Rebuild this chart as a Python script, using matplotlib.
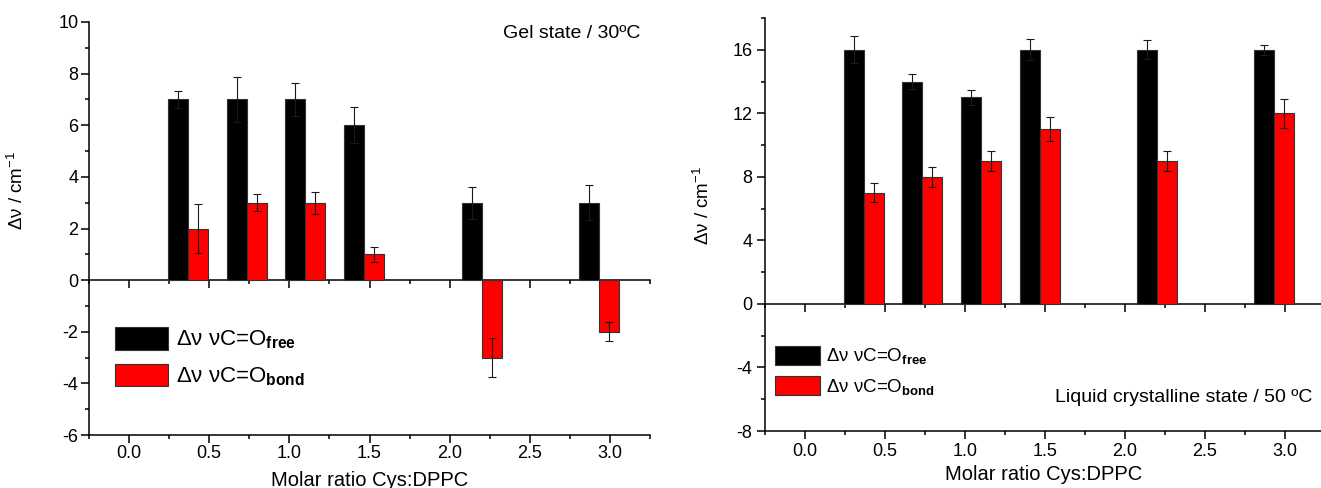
import numpy as np
import matplotlib
matplotlib.use('Agg')
import matplotlib.pyplot as plt
from matplotlib.ticker import MultipleLocator

plt.rcParams['font.family'] = ['Liberation Sans', 'DejaVu Sans']
plt.rcParams['mathtext.fontset'] = 'custom'
plt.rcParams['mathtext.rm'] = 'Liberation Sans'
plt.rcParams['mathtext.it'] = 'Liberation Sans:italic'
plt.rcParams['mathtext.bf'] = 'Liberation Sans:bold'
plt.rcParams['axes.unicode_minus'] = False

# data
ratio = [0.367, 0.733, 1.1, 1.467, 2.2, 2.933]

gel_free = [7, 7, 7, 6, 3, 3]
gel_free_err = [0.33, 0.87, 0.65, 0.7, 0.62, 0.69]
gel_bond = [2, 3, 3, 1, -3, -2]
gel_bond_err = [0.93, 0.32, 0.42, 0.28, 0.75, 0.36]

lc_free = [16, 14, 13, 16, 16, 16]
lc_free_err = [0.85, 0.5, 0.45, 0.65, 0.6, 0.3]
lc_bond = [7, 8, 9, 11, 9, 12]
lc_bond_err = [0.6, 0.62, 0.62, 0.74, 0.64, 0.9]

lab_free = 'Δν νC=O$_{\\mathbf{free}}$'
lab_bond = 'Δν νC=O$_{\\mathbf{bond}}$'

W = 0.125
x = np.array(ratio)

fig = plt.figure(figsize=(13.21, 4.88), dpi=100)
ax1 = fig.add_axes([89/1321, 53/488, 561/1321, 413/488])
ax2 = fig.add_axes([765/1321, 57/488, 560/1321, 413/488])


def panel(ax, free, free_err, bond, bond_err, ylim, ymaj, ymin, tpad):
    ekw = dict(ecolor='#1a1a1a', elinewidth=0.8, capsize=3.2, capthick=0.8)
    ax.bar(x - W/2, free, W, color='black', edgecolor='#333333', lw=0.8,
           yerr=free_err, error_kw=ekw, label=lab_free, zorder=2)
    ax.bar(x + W/2, bond, W, color='#ff0000', edgecolor='#333333', lw=0.8,
           yerr=bond_err, error_kw=ekw, label=lab_bond, zorder=2)
    ax.set_xlim(-0.25, 3.25)
    ax.set_ylim(*ylim)
    for s in ['top', 'right']:
        ax.spines[s].set_visible(False)
    for s in ['left', 'bottom']:
        ax.spines[s].set_linewidth(1.1)
    ax.xaxis.set_major_locator(MultipleLocator(0.5))
    ax.xaxis.set_minor_locator(MultipleLocator(0.25))
    ax.yaxis.set_major_locator(MultipleLocator(ymaj))
    ax.yaxis.set_minor_locator(MultipleLocator(ymin))
    ax.tick_params(which='major', length=6, width=1.1, labelsize=13, pad=tpad)
    ax.tick_params(which='minor', length=3, width=1.1)
    # zero line with its own ticks
    sec = ax.secondary_xaxis(0, transform=ax.transData)
    sec.spines['bottom'].set_linewidth(1.1)
    sec.xaxis.set_major_locator(MultipleLocator(0.5))
    sec.xaxis.set_minor_locator(MultipleLocator(0.25))
    sec.tick_params(which='major', length=6, width=1.1, labelbottom=False)
    sec.tick_params(which='minor', length=3, width=1.1)
    ax.set_xlabel('Molar ratio Cys:DPPC', fontsize=14.5)
    ax.set_ylabel('Δν / cm$^{-1}$', fontsize=13.5)


panel(ax1, gel_free, gel_free_err, gel_bond, gel_bond_err, (-6, 10), 2, 1, 1.5)
panel(ax2, lc_free, lc_free_err, lc_bond, lc_bond_err, (-8, 18), 4, 2, 3)

ax1.xaxis.set_label_coords(0.5, -0.088)
ax1.yaxis.set_label_coords(-0.11, 0.593)
ax2.xaxis.set_label_coords(0.498, -0.082)
ax2.yaxis.set_label_coords(-0.093, 0.547)

ax1.text(0.738, 0.973, 'Gel state / 30ºC', transform=ax1.transAxes,
         ha='left', va='center', fontsize=14)
ax2.text(0.518, 0.082, 'Liquid crystalline state / 50 ºC', transform=ax2.transAxes,
         ha='left', va='center', fontsize=14)

ax1.legend(loc='upper left', bbox_to_anchor=(0.046, 0.262), frameon=False,
           fontsize=16, borderpad=0, handlelength=2.4, handleheight=1.2,
           handletextpad=0.36, labelspacing=0.55, borderaxespad=0)
ax2.legend(loc='upper left', bbox_to_anchor=(0.018, 0.207), frameon=False,
           fontsize=13.5, borderpad=0, handlelength=2.4, handleheight=1.2,
           handletextpad=0.33, labelspacing=0.5, borderaxespad=0)

fig.savefig('out.png', dpi=100)
